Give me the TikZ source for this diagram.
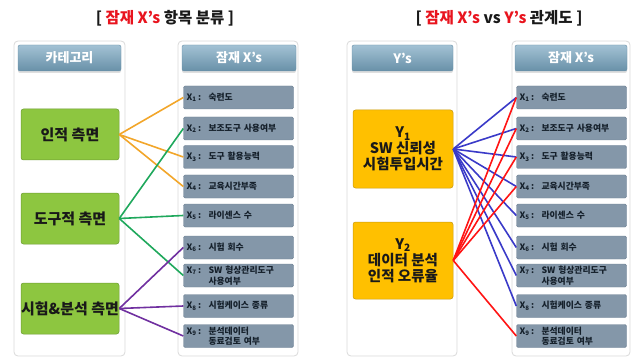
\documentclass[tikz,border=0pt]{standalone}
\usepackage{fontspec}
\setmainfont{Noto Sans CJK KR}
\usetikzlibrary{shadows}
\definecolor{framegray}{HTML}{DADADA}
\definecolor{hdrtop}{HTML}{A3C2D4}
\definecolor{hdrbot}{HTML}{6890A8}
\definecolor{xfill}{HTML}{8497A9}
\definecolor{xdraw}{HTML}{6F8294}
\definecolor{xtext}{HTML}{15202B}
\definecolor{catgreen}{HTML}{8DC640}
\definecolor{catdraw}{HTML}{6E9E34}
\definecolor{yfill}{HTML}{FFC000}
\definecolor{ydraw}{HTML}{C89A10}
\definecolor{lorange}{HTML}{F2A62A}
\definecolor{lgreen}{HTML}{1FA85C}
\definecolor{lpurple}{HTML}{7030A0}
\definecolor{lblue}{HTML}{3A3AC8}
\definecolor{lred}{HTML}{FF1414}
\definecolor{titlered}{HTML}{E8141E}
\newcommand\xlab[2]{\makebox[22pt][l]{X\textsubscript{#1}\,:}#2}
\begin{document}
\begin{tikzpicture}[x=1pt,y=-1pt,
  frame/.style={draw=framegray, line width=0.8, fill=white, rounded corners=4, inner sep=0},
  hdr/.style={rounded corners=2, top color=hdrtop, bottom color=hdrbot, draw=hdrbot, line width=0.4,
    text=white, font=\bfseries\fontsize{13}{14}\selectfont, inner sep=0,
    drop shadow={shadow xshift=0pt, shadow yshift=-2pt, opacity=0.25}},
  xbox/.style={fill=xfill, draw=xdraw, rounded corners=1.5, line width=0.4, text=xtext,
    font=\bfseries\fontsize{8.8}{10.5}\selectfont, minimum width=110, minimum height=23,
    text width=104, inner xsep=3, inner ysep=0, align=left},
  catbox/.style={fill=catgreen, draw=catdraw, rounded corners=2.5, line width=0.5,
    font=\bfseries\fontsize{15}{17}\selectfont, text=black!90, minimum width=98, minimum height=51, inner sep=0},
  ybox/.style={fill=yfill, draw=ydraw, rounded corners=2.5, line width=0.5, align=center,
    font=\bfseries\fontsize{14.5}{16}\selectfont, text=black!90, minimum width=100, minimum height=78, inner sep=0},
  title/.style={font=\bfseries\fontsize{15.5}{17}\selectfont, text=black!90},
  conn/.style={line width=1.6}
]
\useasboundingbox (0,0) rectangle (639,358);

% titles
\node[title] (t1) at (165,18) {[ {\color{titlered}잠재 X’s} 항목 분류 ]};
\node[title] (t2) at (499,18) {[ {\color{titlered}잠재 X’s} vs {\color{titlered}Y’s} 관계도 ]};

% frames
\node[frame, minimum width=111, minimum height=315] (fA) at (69.5,198.5) {};
\node[frame, minimum width=120, minimum height=315] (fB) at (238,198.5) {};
\node[frame, minimum width=110, minimum height=315] (fC) at (402,198.5) {};
\node[frame, minimum width=118, minimum height=315] (fD) at (571,198.5) {};

% headers
\node[hdr, minimum width=103, minimum height=26] (hA) at (69.5,58) {카테고리};
\node[hdr, minimum width=114, minimum height=26] (hB) at (239,58) {잠재 X’s};
\node[hdr, minimum width=101, minimum height=26] (hC) at (402.5,58) {Y’s};
\node[hdr, minimum width=112, minimum height=26] (hD) at (571,58) {잠재 X’s};

% category boxes
\node[catbox] (c1) at (70,134.5) {인적 측면};
\node[catbox] (c2) at (70,218.5) {도구적 측면};
\node[catbox] (c3) at (70,308.5) {시험\&분석 측면};

% Y boxes
\node[ybox] (y1) at (403,149) {Y\textsubscript{1}\\SW 신뢰성\\시험투입시간};
\node[ybox, minimum height=77] (y2) at (403,260.5) {Y\textsubscript{2}\\데이터 분석\\인적 오류율};

% X boxes (left and right)
\foreach \p/\xc in {L/238.5, R/571.5}{
  \node[xbox] (\p1) at (\xc,97.5) {\xlab{1}{숙련도}};
  \node[xbox] (\p2) at (\xc,128.5) {\xlab{2}{보조도구 사용여부}};
  \node[xbox] (\p3) at (\xc,157) {\xlab{3}{도구 활용능력}};
  \node[xbox] (\p4) at (\xc,186.5) {\xlab{4}{교육시간부족}};
  \node[xbox] (\p5) at (\xc,215.5) {\xlab{5}{라이센스 수}};
  \node[xbox] (\p6) at (\xc,247.5) {\xlab{6}{시험 회수}};
  \node[xbox] (\p7) at (\xc,275.5) {\xlab{7}{SW 형상관리도구}\\\hspace*{22pt}사용여부};
  \node[xbox] (\p8) at (\xc,306) {\xlab{8}{시험케이스 종류}};
  \node[xbox] (\p9) at (\xc,336) {\xlab{9}{분석데이터}\\\hspace*{22pt}동료검토 여부};
}

% left connectors
\foreach \t in {1,3,4} \draw[conn, lorange] (c1.east) -- (L\t.west);
\foreach \t in {2,5,7} \draw[conn, lgreen] (c2.east) -- (L\t.west);
\foreach \t in {6,8,9} \draw[conn, lpurple] (c3.east) -- (L\t.west);

% right connectors
\foreach \t in {1,...,8} \draw[conn, lblue] (y1.east) -- (R\t.west);
\foreach \t in {1,2,3,4,9} \draw[conn, lred] (y2.east) -- (R\t.west);
\end{tikzpicture}
\end{document}
